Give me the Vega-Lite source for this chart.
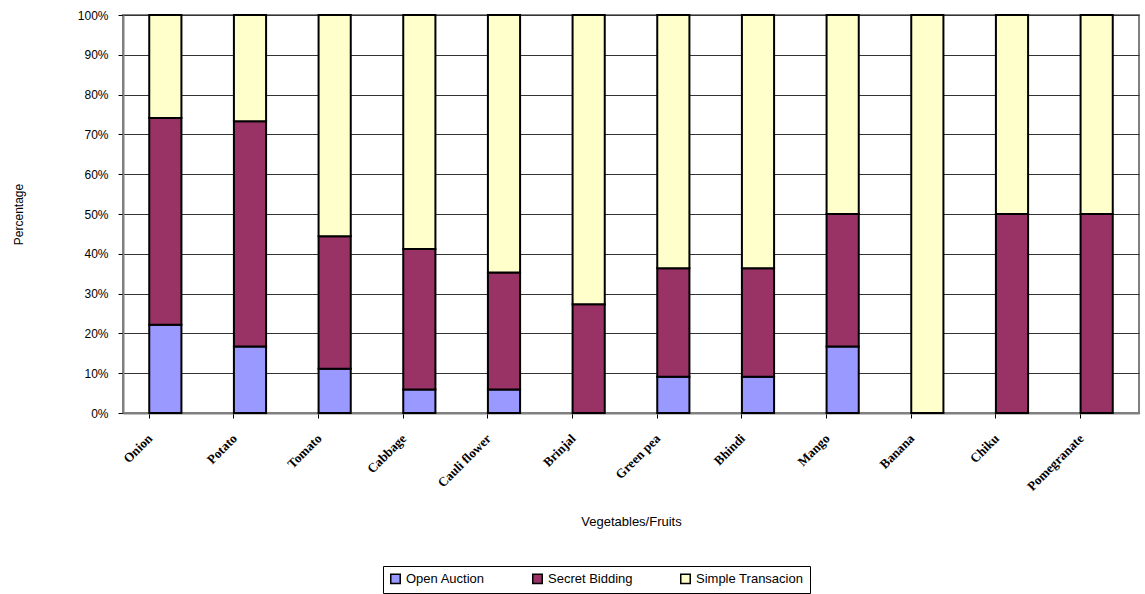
{
  "$schema": "https://vega.github.io/schema/vega-lite/v6.json",
  "width": 1016,
  "height": 398,
  "autosize": {"type": "none"},
  "padding": {"left": 123, "top": 15, "right": 6, "bottom": 181},
  "background": "white",
  "config": {
    "font": "Liberation Sans",
    "view": {"stroke": "#808080", "strokeWidth": 2},
    "axis": {"labelColor": "black", "titleColor": "black", "titleFontWeight": "normal"}
  },
  "data": {
    "values": [
      {"item": "Onion", "method": "Open Auction", "pct": 22.2},
      {"item": "Onion", "method": "Secret Bidding", "pct": 51.9},
      {"item": "Onion", "method": "Simple Transacion", "pct": 25.9},
      {"item": "Potato", "method": "Open Auction", "pct": 16.7},
      {"item": "Potato", "method": "Secret Bidding", "pct": 56.6},
      {"item": "Potato", "method": "Simple Transacion", "pct": 26.7},
      {"item": "Tomato", "method": "Open Auction", "pct": 11.1},
      {"item": "Tomato", "method": "Secret Bidding", "pct": 33.3},
      {"item": "Tomato", "method": "Simple Transacion", "pct": 55.6},
      {"item": "Cabbage", "method": "Open Auction", "pct": 5.9},
      {"item": "Cabbage", "method": "Secret Bidding", "pct": 35.3},
      {"item": "Cabbage", "method": "Simple Transacion", "pct": 58.8},
      {"item": "Cauli flower", "method": "Open Auction", "pct": 5.9},
      {"item": "Cauli flower", "method": "Secret Bidding", "pct": 29.4},
      {"item": "Cauli flower", "method": "Simple Transacion", "pct": 64.7},
      {"item": "Brinjal", "method": "Secret Bidding", "pct": 27.3},
      {"item": "Brinjal", "method": "Simple Transacion", "pct": 72.7},
      {"item": "Green pea", "method": "Open Auction", "pct": 9.1},
      {"item": "Green pea", "method": "Secret Bidding", "pct": 27.3},
      {"item": "Green pea", "method": "Simple Transacion", "pct": 63.6},
      {"item": "Bhindi", "method": "Open Auction", "pct": 9.1},
      {"item": "Bhindi", "method": "Secret Bidding", "pct": 27.3},
      {"item": "Bhindi", "method": "Simple Transacion", "pct": 63.6},
      {"item": "Mango", "method": "Open Auction", "pct": 16.7},
      {"item": "Mango", "method": "Secret Bidding", "pct": 33.3},
      {"item": "Mango", "method": "Simple Transacion", "pct": 50.0},
      {"item": "Banana", "method": "Simple Transacion", "pct": 100.0},
      {"item": "Chiku", "method": "Secret Bidding", "pct": 50.0},
      {"item": "Chiku", "method": "Simple Transacion", "pct": 50.0},
      {"item": "Pomegranate", "method": "Secret Bidding", "pct": 50.0},
      {"item": "Pomegranate", "method": "Simple Transacion", "pct": 50.0}
    ]
  },
  "mark": {"type": "bar", "stroke": "black", "strokeWidth": 2},
  "encoding": {
    "x": {
      "field": "item",
      "type": "nominal",
      "sort": null,
      "scale": {"paddingInner": 0.62, "paddingOuter": 0.31},
      "axis": {
        "title": "Vegetables/Fruits",
        "titleFontSize": 13,
        "titleFont": "Liberation Sans",
        "titleY": 108,
        "titleBaseline": "middle",
        "labelAngle": -45,
        "labelAlign": "right",
        "labelBaseline": "middle",
        "labelFont": "Liberation Serif",
        "labelFontWeight": "bold",
        "labelFontSize": 13,
        "labelOffset": -15,
        "labelPadding": 18,
        "ticks": true,
        "bandPosition": 0,
        "tickColor": "black",
        "tickSize": 5,
        "tickWidth": 1,
        "domainColor": "#808080",
        "domainWidth": 2,
        "grid": false
      }
    },
    "y": {
      "field": "pct",
      "type": "quantitative",
      "stack": "normalize",
      "scale": {"domain": [0, 1]},
      "axis": {
        "title": "Percentage",
        "titleFontSize": 12,
        "titleX": -105,
        "titleY": 199,
        "titleBaseline": "middle",
        "values": [0, 0.1, 0.2, 0.3, 0.4, 0.5, 0.6, 0.7, 0.8, 0.9, 1],
        "format": ".0%",
        "labelFontSize": 12,
        "labelPadding": 10,
        "ticks": true,
        "tickColor": "black",
        "tickSize": 5,
        "domainColor": "#808080",
        "domainWidth": 2,
        "grid": true,
        "gridColor": "#333333",
        "gridWidth": 1
      }
    },
    "color": {
      "field": "method",
      "type": "nominal",
      "scale": {
        "domain": ["Open Auction", "Secret Bidding", "Simple Transacion"],
        "range": ["#9999FF", "#993366", "#FFFFCC"]
      },
      "legend": {
        "title": null,
        "orient": "none",
        "legendX": 260,
        "legendY": 551,
        "direction": "horizontal",
        "strokeColor": "black",
        "padding": 6,
        "symbolType": "square",
        "symbolSize": 90,
        "symbolStrokeColor": "black",
        "symbolStrokeWidth": 1.5,
        "symbolOpacity": 1,
        "labelFontSize": 13,
        "labelColor": "black",
        "labelOffset": 4,
        "columnPadding": 44
      }
    },
    "order": {"field": "method", "sort": "ascending"}
  }
}
